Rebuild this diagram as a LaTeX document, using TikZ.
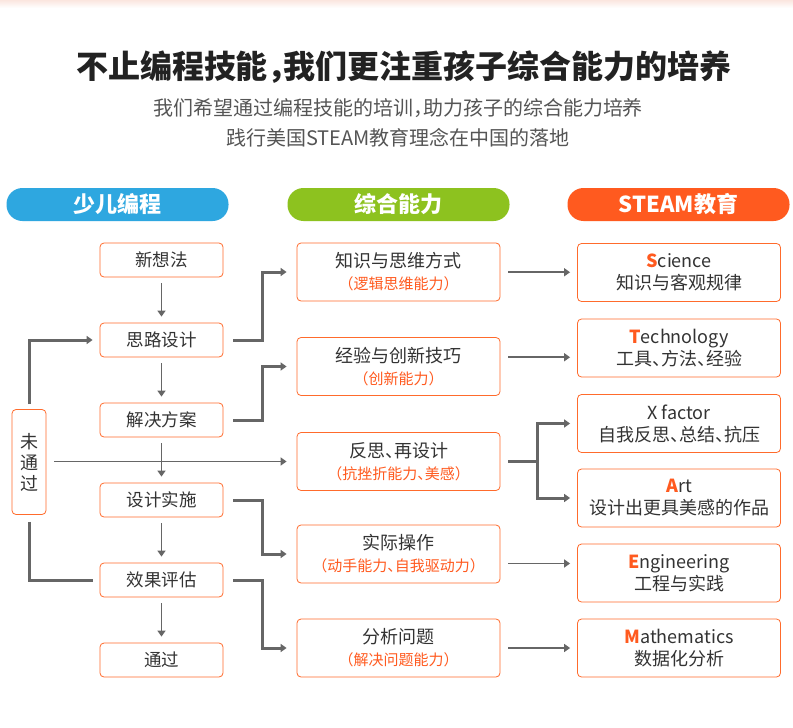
\documentclass[tikz,border=0pt]{standalone}
\usepackage{fontspec}
\setmainfont{Noto Sans CJK SC}[RawFeature=+halt]
\usetikzlibrary{arrows.meta,calc,positioning}
\definecolor{pillblue}{HTML}{2EA7E0}
\definecolor{pillgreen}{HTML}{8DC21F}
\definecolor{pillorange}{HTML}{FF5A1F}
\definecolor{boxorange}{HTML}{FF6B2C}
\definecolor{suborange}{HTML}{FF5A1F}
\definecolor{textgray}{HTML}{333333}
\definecolor{titlegray}{HTML}{222222}
\definecolor{subgray}{HTML}{555555}
\definecolor{linegray}{HTML}{666666}
\definecolor{pinkband}{HTML}{FBE6DF}
\newcommand{\subline}[1]{{\fontsize{15}{22}\selectfont\color{suborange}#1}}
\newcommand{\initial}[1]{\textcolor{suborange}{\bfseries #1}}

\begin{document}
\begin{tikzpicture}[
  x=1pt,
  y=-1pt,
  >={Triangle[length=6pt,width=8pt]},
  pill/.style={rounded corners=16pt, minimum width=222pt, minimum height=33pt, inner sep=0pt, text=white, font=\fontsize{22}{26}\selectfont\bfseries},
  stepbox/.style={draw=boxorange, line width=0.8pt, rounded corners=4pt, minimum width=123pt, minimum height=34pt, inner sep=0pt, text=textgray, font=\fontsize{17.5}{20}\selectfont},
  skillbox/.style={draw=boxorange, line width=0.8pt, rounded corners=4pt, minimum width=203pt, minimum height=58pt, inner sep=0pt, align=center, text=textgray, font=\fontsize{18}{22}\selectfont},
  flow/.style={draw=linegray, line width=1.8pt, ->},
  link/.style={draw=linegray, line width=3pt}
]
  \useasboundingbox (0,0) rectangle (793,728);
  \fill[white] (0,0) rectangle (793,728);
  \shade[top color=pinkband, bottom color=white] (0,0) rectangle (793,8);

  \node[font=\fontsize{32}{38}\selectfont\bfseries, text=titlegray] (title) at (404,67) {不止编程技能，我们更注重孩子综合能力的培养};
  \node[align=center, font=\fontsize{20}{30}\selectfont, text=subgray] (subtitle) at (398,123) {我们希望通过编程技能的培训，助力孩子的综合能力培养\\践行美国STEAM教育理念在中国的落地};

  \node[pill, fill=pillblue] (hcode) at (117.5,204.5) {少儿编程};
  \node[pill, fill=pillgreen] (hskill) at (398.5,204.5) {综合能力};
  \node[pill, fill=pillorange] (hsteam) at (678.5,204.5) {STEAM教育};

  \node[stepbox] (idea) at (161.5,260) {新想法};
  \node[stepbox] (plan) at (161.5,340) {思路设计};
  \node[stepbox] (solve) at (161.5,420) {解决方案};
  \node[stepbox] (build) at (161.5,500) {设计实施};
  \node[stepbox] (review) at (161.5,580) {效果评估};
  \node[stepbox] (pass) at (161.5,660) {通过};
  \node[stepbox, minimum width=34pt, minimum height=105pt, align=center, font=\fontsize{18}{21}\selectfont] (fail) at (29,462) {未\\通\\过};

  \node[skillbox] (think) at (398.5,272) {知识与思维方式\\\subline{（逻辑思维能力）}};
  \node[skillbox] (create) at (398.5,366.5) {经验与创新技巧\\\subline{（创新能力）}};
  \node[skillbox] (reflect) at (398.5,461.5) {反思、再设计\\\subline{（抗挫折能力、美感）}};
  \node[skillbox] (practice) at (398.5,554) {实际操作\\\subline{（动手能力、自我驱动力）}};
  \node[skillbox] (analyse) at (398.5,648) {分析问题\\\subline{（解决问题能力）}};

  \node[skillbox] (sci) at (679,272.5) {\initial{S}cience\\知识与客观规律};
  \node[skillbox] (tech) at (679,348) {\initial{T}echnology\\工具、方法、经验};
  \node[skillbox] (xfac) at (679,423.5) {X factor\\自我反思、总结、抗压};
  \node[skillbox] (art) at (679,498) {\initial{A}rt\\设计出更具美感的作品};
  \node[skillbox] (eng) at (679,573) {\initial{E}ngineering\\工程与实践};
  \node[skillbox] (math) at (679,648) {\initial{M}athematics\\数据化分析};

  \draw[flow, shorten <=6pt, shorten >=6pt] (idea) -- (plan);
  \draw[flow, shorten <=6pt, shorten >=6pt] (plan) -- (solve);
  \draw[flow, shorten <=6pt, shorten >=6pt] (solve) -- (build);
  \draw[flow, shorten <=6pt, shorten >=6pt] (build) -- (review);
  \draw[flow, shorten <=6pt, shorten >=6pt] (review) -- (pass);

  \draw[link, ->, shorten <=5pt, shorten >=7pt] (fail.north) |- (plan.west);
  \draw[link, shorten <=7pt, shorten >=7pt] (fail.south) |- (review.west);
  \draw[flow, shorten <=8pt, shorten >=10pt] (fail.east |- reflect.west) -- (reflect.west);

  \draw[link, ->, shorten <=10pt, shorten >=10pt] (plan.east) -- ++(39,0) |- (think.west);
  \draw[link, ->, shorten <=10pt, shorten >=10pt] (solve.east) -- ++(39,0) |- (create.west);
  \draw[link, ->, shorten <=10pt, shorten >=10pt] (build.east) -- ++(39,0) |- (practice.west);
  \draw[link, ->, shorten <=10pt, shorten >=10pt] (review.east) -- ++(39,0) |- (analyse.west);

  \coordinate (ysci) at ($(think.east)!0.5!(sci.west)$);
  \coordinate (ytech) at ($(create.east)!0.5!(tech.west)$);
  \coordinate (yeng) at ($(practice.east)!0.5!(eng.west)$);
  \coordinate (ymath) at ($(analyse.east)!0.5!(math.west)$);
  \draw[flow, shorten <=8pt, shorten >=7pt] (think.east |- ysci) -- (sci.west |- ysci);
  \draw[flow, shorten <=8pt, shorten >=7pt] (create.east |- ytech) -- (tech.west |- ytech);
  \draw[flow, shorten <=8pt, shorten >=7pt] (practice.east |- yeng) -- (eng.west |- yeng);
  \draw[flow, shorten <=8pt, shorten >=7pt] (analyse.east |- ymath) -- (math.west |- ymath);

  \draw[link, shorten <=8pt] (reflect.east) -- ++(37,0) coordinate (fork);
  \draw[link, ->, shorten >=7pt] (fork) |- (xfac.west);
  \draw[link, ->, shorten >=7pt] (fork) |- (art.west);
\end{tikzpicture}
\end{document}
